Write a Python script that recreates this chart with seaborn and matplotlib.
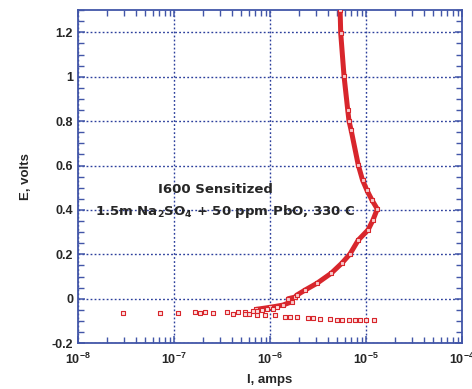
import numpy as np
import pandas as pd
import matplotlib
matplotlib.use("Agg")
import matplotlib.pyplot as plt
import matplotlib.ticker as mticker
import seaborn as sns

# main polarisation curve (dense points)
main_I = [7.2e-7, 1.0e-6, 1.36e-6, 1.68e-6, 1.55e-6, 1.82e-6, 1.9e-6, 2.32e-6,
          3.1e-6, 4.35e-6, 5.6e-6, 6.8e-6, 8.3e-6, 1.05e-5, 1.18e-5, 1.31e-5,
          1.15e-5, 1.02e-5, 9.2e-6, 8.3e-6, 7.0e-6, 6.65e-6, 6.45e-6, 5.9e-6,
          5.45e-6, 5.37e-6]
main_E = [-0.048, -0.039, -0.029, -0.014, 0.0, 0.007, 0.016, 0.039,
          0.070, 0.115, 0.160, 0.201, 0.264, 0.310, 0.354, 0.404,
          0.445, 0.489, 0.534, 0.602, 0.759, 0.800, 0.850, 1.003,
          1.196, 1.300]

# scattered low-current points
low_I = [2.96e-8, 7.1e-8, 1.1e-7, 1.65e-7, 1.86e-7, 2.1e-7, 2.57e-7, 3.55e-7,
         4.1e-7, 4.66e-7, 5.5e-7, 6.1e-7, 6.6e-7, 7.3e-7, 8.2e-7, 9.2e-7,
         1.07e-6, 1.17e-6]
low_E = [-0.064, -0.064, -0.064, -0.062, -0.066, -0.060, -0.065, -0.060,
         -0.071, -0.059, -0.059, -0.071, -0.055, -0.055, -0.051, -0.047,
         -0.046, -0.038]

# cathodic branch going to higher current
cat_I = [5.5e-7, 7.3e-7, 8.9e-7, 1.12e-6, 1.45e-6, 1.62e-6, 1.9e-6, 2.5e-6,
         2.8e-6, 3.3e-6, 4.2e-6, 4.95e-6, 5.6e-6, 6.6e-6, 7.7e-6, 8.7e-6,
         1.0e-5, 1.2e-5]
cat_E = [-0.071, -0.072, -0.074, -0.073, -0.082, -0.082, -0.083, -0.087,
         -0.088, -0.092, -0.093, -0.096, -0.096, -0.096, -0.096, -0.097,
         -0.098, -0.097]

xticks = [1e-8, 1e-7, 1e-6, 1e-5, 1e-4]
xtick_labels = [r"$\mathbf{10^{-8}}$", r"$\mathbf{10^{-7}}$", r"$\mathbf{10^{-6}}$",
                r"$\mathbf{10^{-5}}$", r"$\mathbf{10^{-4}}$"]
yticks = [-0.2, 0, 0.2, 0.4, 0.6, 0.8, 1, 1.2]
ytick_labels = ["-0.2", "0", "0.2", "0.4", "0.6", "0.8", "1", "1.2"]

red = "#d8262c"
blue = "#4256a8"
grid_blue = "#2c3f9c"

sns.set_style("ticks")
plt.rcParams["font.family"] = ["Liberation Sans", "DejaVu Sans"]
plt.rcParams["mathtext.fontset"] = "custom"
plt.rcParams["mathtext.bf"] = "Liberation Sans:bold"

fig = plt.figure(figsize=(4.72, 3.89), dpi=100)
ax = fig.add_axes([0.165, 0.118, 0.814, 0.856])

df_main = pd.DataFrame({"I": main_I, "E": main_E})
df_low = pd.DataFrame({"I": low_I + cat_I, "E": low_E + cat_E})

sns.lineplot(data=df_main, x="I", y="E", sort=False, estimator=None,
             color=red, linewidth=3.6, ax=ax)
sns.scatterplot(data=df_main, x="I", y="E", marker="s", s=10,
                color="#f7c9cb", edgecolor=red, linewidth=0.8, ax=ax, zorder=3)
sns.scatterplot(data=df_low, x="I", y="E", marker="s", s=7,
                color="#fbe3e4", edgecolor=red, linewidth=0.8, ax=ax, zorder=3)

ax.set_xscale("log")
ax.set_xlim(1e-8, 1e-4)
ax.set_ylim(-0.2, 1.3)
ax.set_xticks(xticks)
ax.set_xticklabels(xtick_labels)
ax.set_yticks(yticks)
ax.set_yticklabels(ytick_labels)
ax.xaxis.set_minor_locator(mticker.LogLocator(base=10, subs=np.arange(2, 10)))
ax.xaxis.set_minor_formatter(mticker.NullFormatter())
ax.yaxis.set_minor_locator(mticker.MultipleLocator(0.05))

ax.grid(True, which="major", color=grid_blue, linestyle=(0, (1.3, 1.6)),
        linewidth=1.0)
for s in ax.spines.values():
    s.set_color(blue)
    s.set_linewidth(1.3)
ax.tick_params(which="both", direction="in", top=True, right=True, color=blue,
               labelsize=9)
ax.tick_params(which="major", length=5, width=1.1)
ax.tick_params(which="minor", length=4, width=1.0)
for lab in ax.get_yticklabels():
    lab.set_fontweight("bold")
ax.tick_params(axis="x", pad=6)

ax.set_xlabel("I, amps", fontsize=9.5, fontweight="bold", labelpad=5)
ax.set_ylabel("E, volts", fontsize=9.5, fontweight="bold", labelpad=14)

ax.text(0.357, 0.46, "I600 Sensitized", transform=ax.transAxes,
        ha="center", va="center", fontsize=9.5, fontweight="bold",
        family=["DejaVu Sans"])
ax.text(0.045, 0.395, r"1.5m Na$_{\mathregular{2}}$SO$_{\mathregular{4}}$ + 50 ppm PbO, 330 C",
        transform=ax.transAxes, ha="left", va="center", fontsize=9.5,
        fontweight="bold", family=["DejaVu Sans"])

fig.savefig("out.png", dpi=100)
